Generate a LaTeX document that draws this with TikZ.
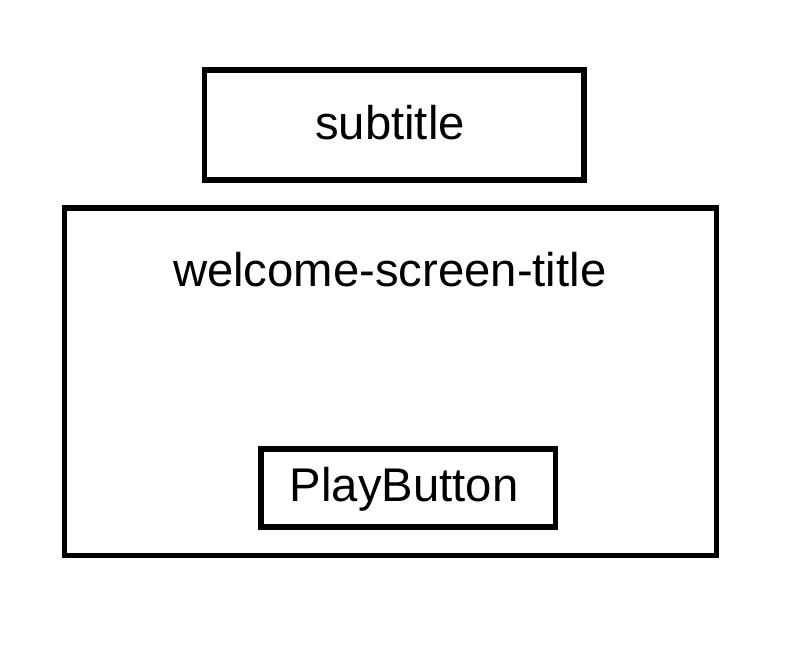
\documentclass[tikz,border=0pt]{standalone}
\usepackage{fontspec}
\setmainfont{Liberation Sans}
\tikzset{
  wst frame/.style={draw=black, line width=3pt, rectangle, inner sep=0pt},
  wst label/.style={font=\fontsize{26.9}{32}\selectfont, text=black, anchor=base, inner sep=0pt},
}

\begin{document}
\begin{tikzpicture}[x=0.02cm, y=-0.02cm]
  \useasboundingbox (0,0) rectangle (800,668);
  % Boxes: subtitle on top, the screen below with its button inside
  \node[wst frame, minimum width=7.59cm, minimum height=2.2cm] (subtitle box) at (394.25,125) {};
  \node[wst frame, minimum width=13.04cm, minimum height=6.95cm] (screen box) at (390.6,381.7) {};
  \node[wst frame, minimum width=5.89cm, minimum height=1.56cm] (play box) at (408.25,488) {};
  % Texts, set on their baselines
  \node[wst label] (subtitle) at (390,139.3) {subtitle};
  \node[wst label] (screen title) at (389.7,286.7) {welcome-screen-title};
  \node[wst label] (play) at (404.2,501) {PlayButton};
\end{tikzpicture}
\end{document}
